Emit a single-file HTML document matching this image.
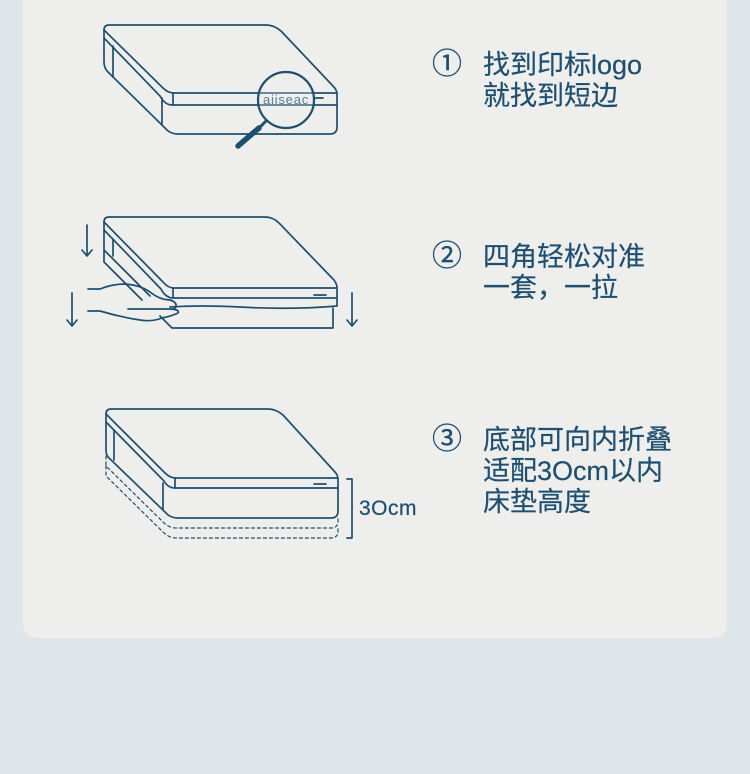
<!DOCTYPE html>
<html><head><meta charset="utf-8"><style>
html,body{margin:0;padding:0;}
body{width:750px;height:774px;background:#dfe6eb;position:relative;overflow:hidden;font-family:"Liberation Sans","Noto Sans CJK SC",sans-serif;}
.card{position:absolute;left:23px;top:0;width:704px;height:638px;background:#eeeeec;border-radius:0 0 14px 14px;}
.t{position:absolute;color:#1f4f70;font-size:27px;line-height:31px;white-space:nowrap;font-weight:normal;-webkit-text-stroke:0.2px #1f4f70;}
.n{position:absolute;color:#1f4f70;font-size:30px;line-height:31px;-webkit-text-stroke:0.3px #1f4f70;}
svg{position:absolute;left:0;top:0;}
</style></head><body>
<div class="card"></div>
<svg width="750" height="774" viewBox="0 0 750 774" fill="none" stroke="#1f4f6e" stroke-width="1.7" stroke-linejoin="round" stroke-linecap="round">
<path d="M104,30 Q104,25 109,25 L266,25 Q274,25 281,31 L333,86 Q337,90 337,94 L337,127 Q337,134 330,134 L178,134 Q170,134 165,128 L108,72 Q104,68 104,62 Z"/>
<path d="M104,30 L163,88 Q168,93 174,93 L337,93"/>
<path d="M173,93 L173,105"/>
<path d="M104,38 L160,96 Q165,105 172,105 L337,105"/>
<path d="M113,46 L113,77"/>
<path d="M162,98 L162,124"/>
<circle cx="286" cy="100" r="28" fill="#eeeeec" stroke-width="2.2"/>
<path d="M259,93 L313,93 M259,105 L313,105" stroke-width="1.3"/>
<path d="M314,98 L323,98"/>
<path d="M266,121 L258,129" stroke-width="3"/>
<path d="M259,128 L238,146" stroke-width="5.5"/>
<text x="286" y="104" font-family="Liberation Sans" font-size="13" fill="#5d7d95" stroke="none" text-anchor="middle" letter-spacing="0.8">aiiseac</text>
<path d="M104,222 Q104,217 109,217 L265,217 Q273,217 279,223 L334,280 Q337,284 337,288 L337,298"/>
<path d="M104,222 L163,282 Q168,288 174,288 L337,288"/>
<path d="M173,288 L173,298 L337,298"/>
<path d="M104,230 L161,289 Q165,297 172,298"/>
<path d="M104,222 L104,262 L142,300"/>
<path d="M113,239 L113,256"/>
<path d="M104,250 L150,296"/>
<path d="M170,307 Q200,305 240,307 Q290,310 337,306 L337,298"/>
<path d="M333,308 L333,328 L172,328 L160,316"/>
<path d="M88,289 L100,289 Q112,284 125,284 Q140,285 150,292 Q160,300 170,300 Q177,302 176,307 Q174,310 170,309 L128,309"/>
<path d="M88,311 L100,311 Q120,317 140,320 Q152,322 162,318 Q172,316 178,313 Q180,310 172,309"/>
<path d="M87,225 L87,256 M82,250 L87,256 L92,250"/>
<path d="M72,293 L72,326 M67,320 L72,326 L77,320"/>
<path d="M352,293 L352,326 M347,320 L352,326 L357,320"/>
<path d="M314,295 L326,295"/>
<path d="M106,414 Q106,409 111,409 L268,409 Q276,409 283,415 L335,472 Q338,475 338,480 L338,511 Q338,518 331,518 L178,518 Q170,518 165,512 L108,457 Q106,454 106,450 Z"/>
<path d="M106,414 L165,473 Q170,478 176,478 L338,478"/>
<path d="M175,478 L175,488 L338,488"/>
<path d="M106,422 L164,481 Q168,488 175,488"/>
<path d="M114,430 L114,460"/>
<path d="M163,483 L163,510"/>
<path d="M314,484 L326,484"/>
<path d="M106,456 L106,466 L163,522 Q169,528 176,528 L331,528 Q338,528 338,521 L338,516" stroke-dasharray="3,3" stroke-width="1.2"/>
<path d="M106,466 L106,476 L163,532 Q169,538 176,538 L331,538 Q338,538 338,531 L338,526" stroke-dasharray="3,3" stroke-width="1.2"/>
<path d="M347,479 L352,479 L352,538 L347,538"/>
</svg>
<div class="n" style="left:432px;top:49px;">①</div>
<div class="t" style="left:483px;top:50px;">找到印标logo<br>就找到短边</div>
<div class="n" style="left:432px;top:241px;">②</div>
<div class="t" style="left:483px;top:242px;">四角轻松对准<br>一套，一拉</div>
<div class="n" style="left:432px;top:424px;">③</div>
<div class="t" style="left:483px;top:425px;">底部可向内折叠<br>适配3Ocm以内<br>床垫高度</div>
<div class="t" style="left:359px;top:493px;font-size:21px;letter-spacing:0.5px;">3Ocm</div>
</body></html>
